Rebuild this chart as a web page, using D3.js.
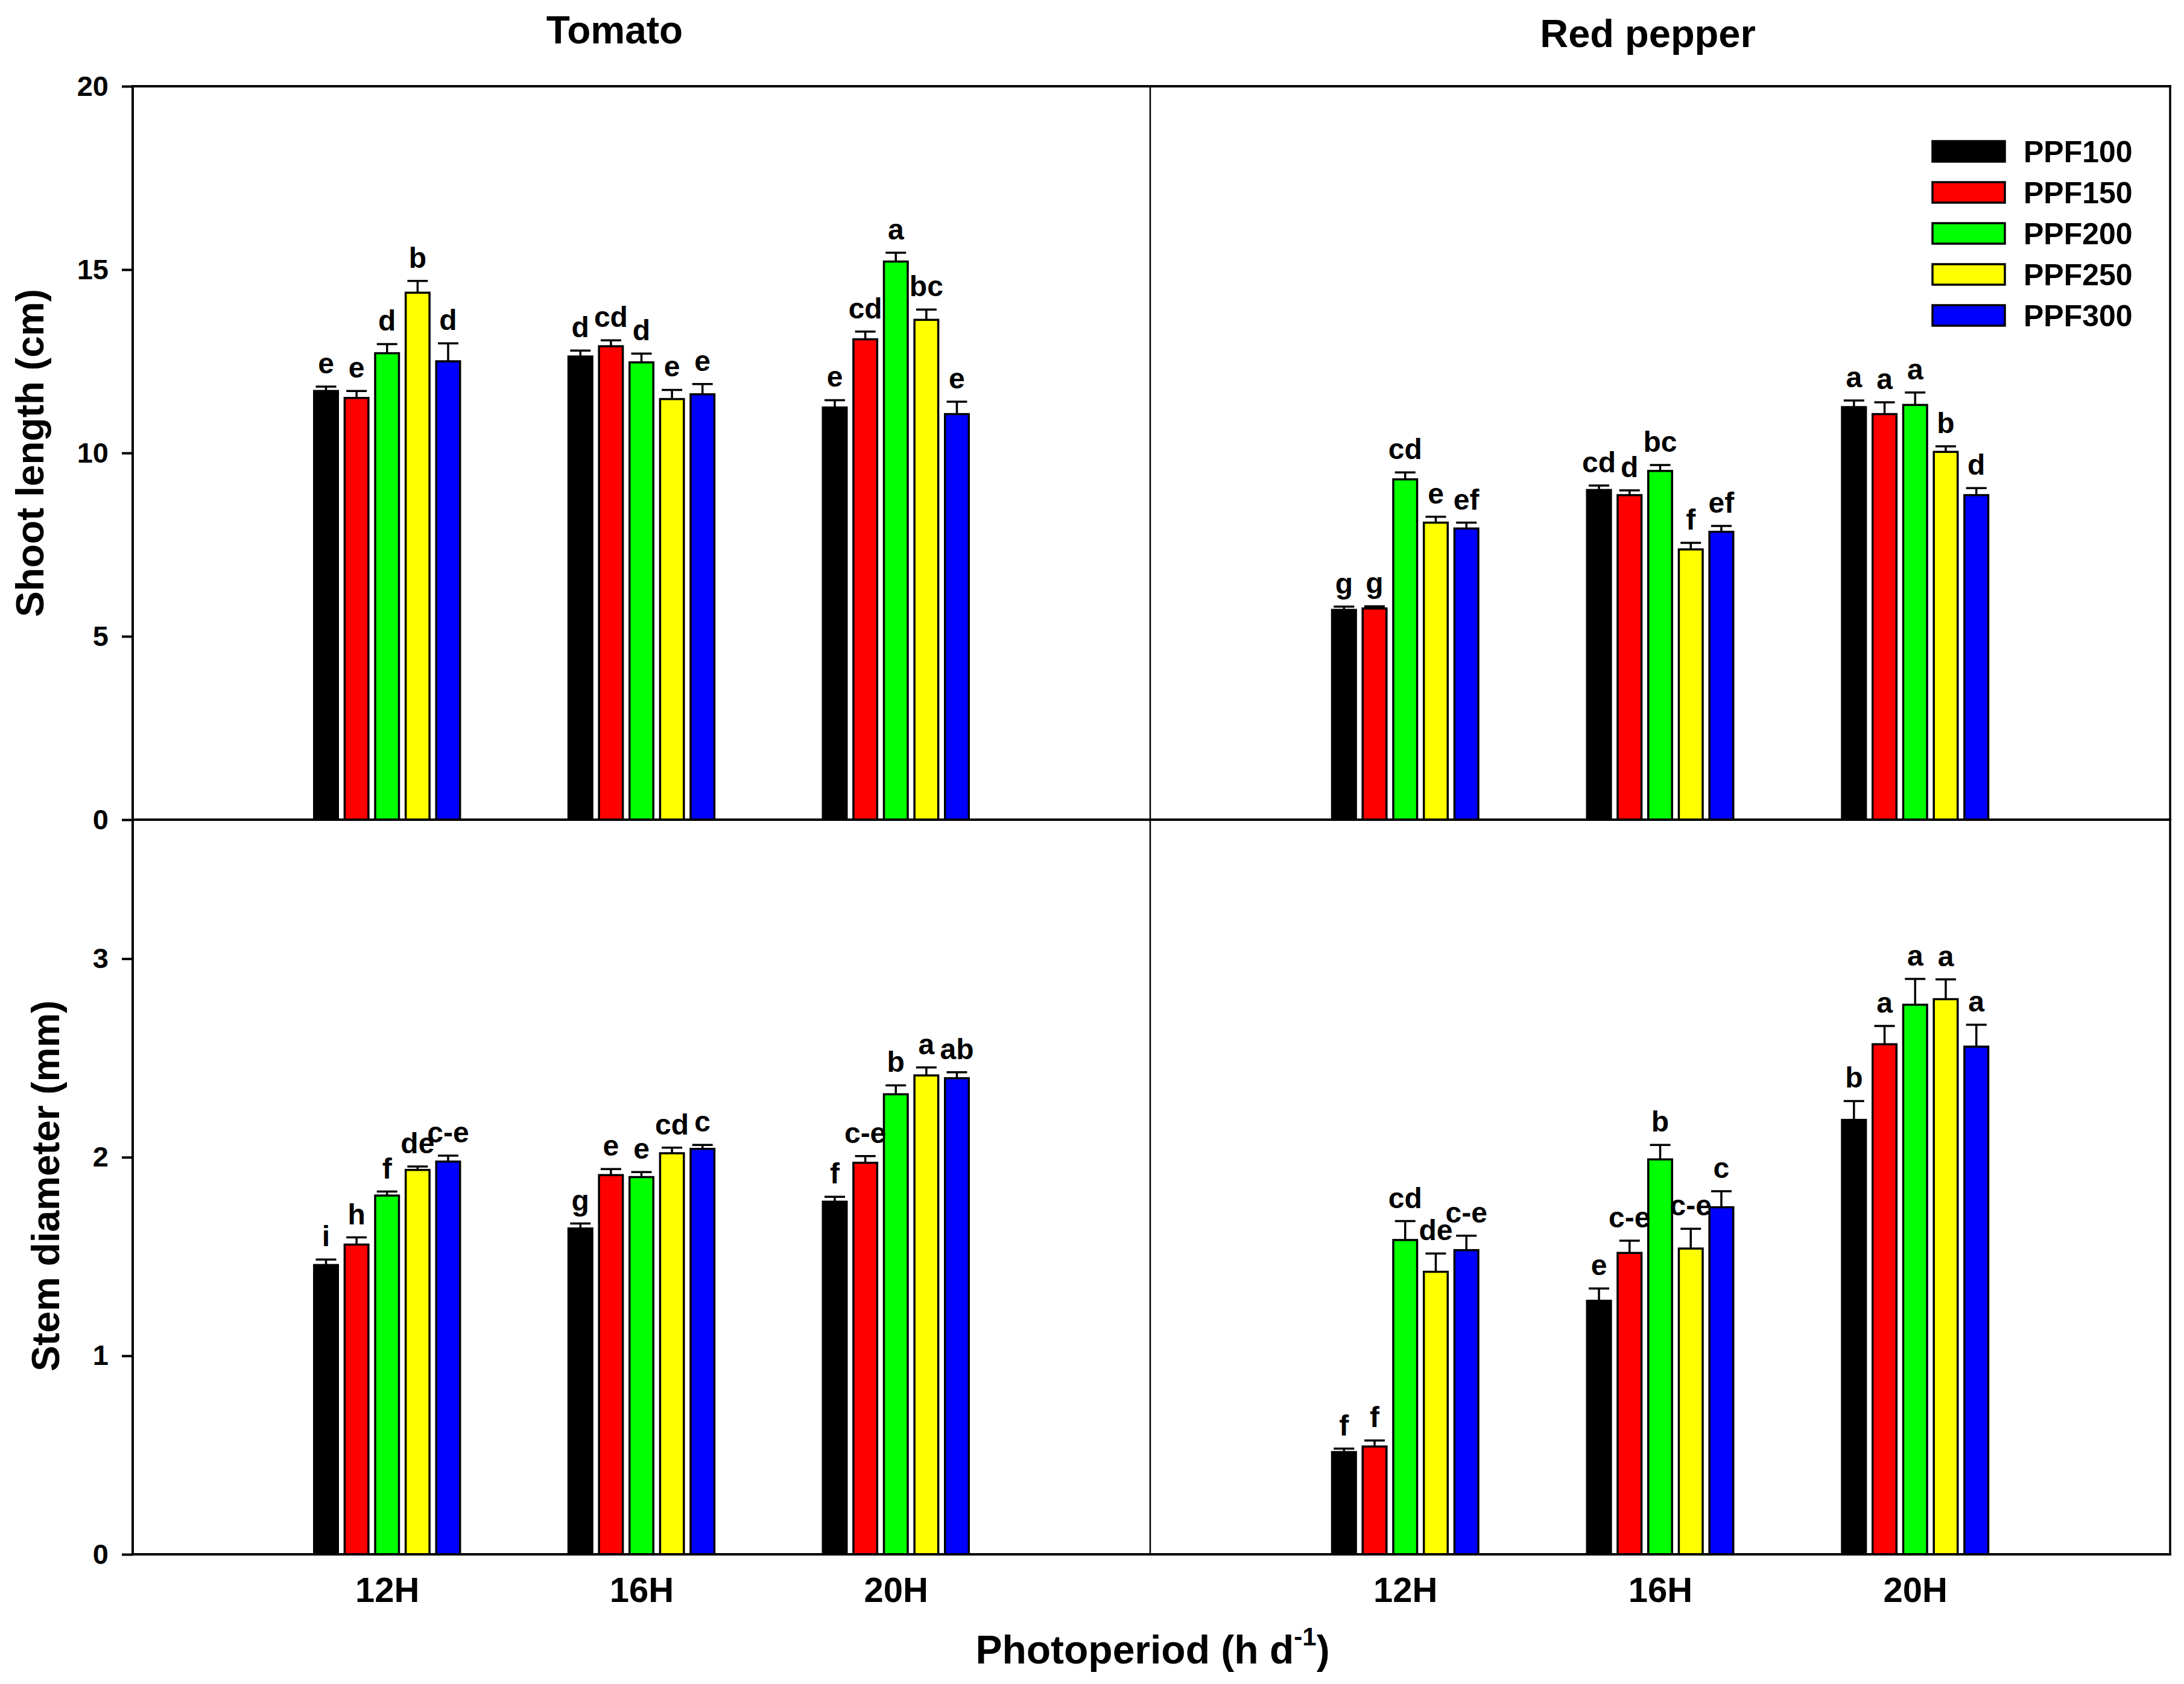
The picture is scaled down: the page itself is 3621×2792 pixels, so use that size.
<!DOCTYPE html>
<html>
<head>
<meta charset="utf-8">
<script src="https://cdn.jsdelivr.net/npm/d3@7"></script>
<style>
  body { margin: 0; background: #fff; }
  text { font-family: "Liberation Sans", Arial, sans-serif; font-weight: bold; fill: #000; }
</style>
</head>
<body>
<div id="chart"></div>
<script>
// categories and series
var photoperiods = ["12H", "16H", "20H"];
var series = ["PPF100", "PPF150", "PPF200", "PPF250", "PPF300"];
var seriesColors = ["#000000", "#ff0000", "#00ff00", "#ffff00", "#0000ff"];

// shoot length (cm), rows = photoperiod, cols = PPF
var tomatoShoot = [[11.69, 11.50, 12.72, 14.37, 12.50], [12.63, 12.91, 12.47, 11.47, 11.60], [11.24, 13.10, 15.22, 13.63, 11.06]];
var tomatoShootErr = [[0.12, 0.19, 0.25, 0.32, 0.49], [0.16, 0.16, 0.24, 0.25, 0.28], [0.20, 0.21, 0.24, 0.28, 0.34]];
var tomatoShootLetters = [["e", "e", "d", "b", "d"], ["d", "cd", "d", "e", "e"], ["e", "cd", "a", "bc", "e"]];

var pepperShoot = [[5.72, 5.76, 9.28, 8.10, 7.94], [8.99, 8.85, 9.51, 7.37, 7.85], [11.25, 11.06, 11.31, 10.03, 8.85]];
var pepperShootErr = [[0.09, 0.06, 0.19, 0.16, 0.16], [0.12, 0.13, 0.16, 0.18, 0.16], [0.18, 0.32, 0.34, 0.15, 0.19]];
var pepperShootLetters = [["g", "g", "cd", "e", "ef"], ["cd", "d", "bc", "f", "ef"], ["a", "a", "a", "b", "d"]];

// stem diameter (mm)
var tomatoStem = [[1.457, 1.56, 1.807, 1.936, 1.978], [1.641, 1.91, 1.90, 2.02, 2.042], [1.776, 1.972, 2.317, 2.412, 2.398]];
var tomatoStemErr = [[0.028, 0.036, 0.02, 0.017, 0.03], [0.025, 0.03, 0.025, 0.028, 0.02], [0.025, 0.034, 0.045, 0.04, 0.03]];
var tomatoStemLetters = [["i", "h", "f", "de", "c-e"], ["g", "e", "e", "cd", "c"], ["f", "c-e", "b", "a", "ab"]];

var pepperStem = [[0.515, 0.543, 1.583, 1.423, 1.532], [1.277, 1.518, 1.989, 1.54, 1.748], [2.188, 2.569, 2.768, 2.796, 2.557]];
var pepperStemErr = [[0.017, 0.03, 0.095, 0.092, 0.073], [0.062, 0.062, 0.073, 0.1, 0.081], [0.095, 0.092, 0.13, 0.1, 0.11]];
var pepperStemLetters = [["f", "f", "cd", "de", "c-e"], ["e", "c-e", "b", "c-e", "c"], ["b", "a", "a", "a", "a"]];

var shootTicks = [0, 5, 10, 15, 20];
var stemTicks = [0, 1, 2, 3];

var W = 3621, H = 2792;
var svg = d3.select("#chart").append("svg").attr("width", W).attr("height", H);

var colX = [[220, 1907], [1907, 3598]];
var rowY = [[143, 1359], [1359, 2577]];

var panels = [
    {col: 0, row: 0, vals: tomatoShoot, errs: tomatoShootErr, letters: tomatoShootLetters, domain: [0, 20], ticks: shootTicks},
    {col: 1, row: 0, vals: pepperShoot, errs: pepperShootErr, letters: pepperShootLetters, domain: [0, 20], ticks: null},
    {col: 0, row: 1, vals: tomatoStem, errs: tomatoStemErr, letters: tomatoStemLetters, domain: [0, 3.7], ticks: stemTicks},
    {col: 1, row: 1, vals: pepperStem, errs: pepperStemErr, letters: pepperStemLetters, domain: [0, 3.7], ticks: null}
];

panels.forEach(function(p){
    var x = d3.scaleLinear().domain([0, 4]).range(colX[p.col]);
    var y = d3.scaleLinear().domain(p.domain).range([rowY[p.row][1], rowY[p.row][0]]);
    var groupW = 0.6 * (x(1) - x(0));
    var inner = d3.scaleBand().domain(series).range([-groupW / 2, groupW / 2]).paddingInner(0.22).paddingOuter(0.11);
    var bw = inner.bandwidth();
    var g = svg.append("g");

    // flatten into bar records
    var recs = [];
    p.vals.forEach(function(row, gi){
        row.forEach(function(v, si){
            recs.push({gi: gi, si: si, v: v, e: p.errs[gi][si], lab: p.letters[gi][si]});
        });
    });
    var cx = function(d){ return x(d.gi + 1) + inner(series[d.si]) + bw / 2; };

    // error bars (up only)
    g.selectAll(".err").data(recs).enter().append("line")
        .attr("x1", cx).attr("x2", cx)
        .attr("y1", function(d){ return y(d.v); })
        .attr("y2", function(d){ return y(d.v + d.e); })
        .attr("stroke", "#000").attr("stroke-width", 3.5);
    g.selectAll(".cap").data(recs).enter().append("line")
        .attr("x1", function(d){ return cx(d) - bw * 0.43; })
        .attr("x2", function(d){ return cx(d) + bw * 0.43; })
        .attr("y1", function(d){ return y(d.v + d.e); })
        .attr("y2", function(d){ return y(d.v + d.e); })
        .attr("stroke", "#000").attr("stroke-width", 3.5);

    g.selectAll(".bar").data(recs).enter().append("rect")
        .attr("x", function(d){ return cx(d) - bw / 2; })
        .attr("y", function(d){ return y(d.v); })
        .attr("width", bw)
        .attr("height", function(d){ return y(0) - y(d.v); })
        .attr("fill", function(d){ return seriesColors[d.si]; })
        .attr("stroke", "#000").attr("stroke-width", 3.5);

    g.selectAll(".lab").data(recs).enter().append("text")
        .attr("x", cx)
        .attr("y", function(d){ return y(d.v + d.e) - 22; })
        .attr("text-anchor", "middle")
        .style("font-size", "48px")
        .text(function(d){ return d.lab; });

    if (p.ticks) {
        var ya = svg.append("g").attr("transform", "translate(" + colX[p.col][0] + ",0)")
            .call(d3.axisLeft(y).tickValues(p.ticks).tickFormat(d3.format("d"))
                .tickSize(18).tickPadding(22).tickSizeOuter(0));
        ya.select(".domain").remove();
        ya.selectAll(".tick line").attr("stroke-width", 4);
        ya.selectAll(".tick text").style("font-size", "47px").style("font-family", "'Liberation Sans', Arial, sans-serif");
    }
    if (p.row === 1) {
        var xa = svg.append("g").attr("transform", "translate(0," + rowY[1][1] + ")")
            .call(d3.axisBottom(x).tickValues([1, 2, 3]).tickFormat(function(d){ return photoperiods[d - 1]; })
                .tickSize(0).tickPadding(38));
        xa.select(".domain").remove();
        xa.selectAll(".tick text").style("font-size", "58px").style("font-family", "'Liberation Sans', Arial, sans-serif");
    }
});

// frame
var frame = svg.append("g").attr("fill", "none").attr("stroke", "#000");
frame.append("line").attr("x1", 220).attr("x2", 220).attr("y1", 143).attr("y2", 2577).attr("stroke-width", 4);
frame.append("line").attr("x1", 218).attr("x2", 3600).attr("y1", 143).attr("y2", 143).attr("stroke-width", 4);
frame.append("line").attr("x1", 218).attr("x2", 3600).attr("y1", 1359).attr("y2", 1359).attr("stroke-width", 4);
frame.append("line").attr("x1", 218).attr("x2", 3600).attr("y1", 2577).attr("y2", 2577).attr("stroke-width", 4);
frame.append("line").attr("x1", 1907).attr("x2", 1907).attr("y1", 143).attr("y2", 2577).attr("stroke-width", 2.5);
frame.append("line").attr("x1", 3598).attr("x2", 3598).attr("y1", 143).attr("y2", 2577).attr("stroke-width", 3.5);

// panel titles
svg.append("text").attr("x", 1019).attr("y", 72).attr("text-anchor", "middle").style("font-size", "64px").text("Tomato");
svg.append("text").attr("x", 2732).attr("y", 78).attr("text-anchor", "middle").style("font-size", "65px").text("Red pepper");

// axis titles
svg.append("text").attr("transform", "translate(72,751) rotate(-90)").attr("text-anchor", "middle")
    .style("font-size", "64px").text("Shoot length (cm)");
svg.append("text").attr("transform", "translate(98,1966) rotate(-90)").attr("text-anchor", "middle")
    .style("font-size", "64px").text("Stem diameter (mm)");
var xt = svg.append("text").attr("x", 1911).attr("y", 2758).attr("text-anchor", "middle").style("font-size", "66px");
xt.append("tspan").text("Photoperiod (h d");
xt.append("tspan").attr("dy", -30).style("font-size", "42px").text("-1");
xt.append("tspan").attr("dy", 30).text(")");

// legend
var leg = svg.append("g").attr("transform", "translate(3204,251)");
var li = leg.selectAll("g").data(series).enter().append("g")
    .attr("transform", function(d, i){ return "translate(0," + (i * 68) + ")"; });
li.append("rect").attr("x", 0).attr("y", -17).attr("width", 120).attr("height", 34)
    .attr("fill", function(d, i){ return seriesColors[i]; }).attr("stroke", "#000").attr("stroke-width", 3.5);
li.append("text").attr("x", 151).attr("dy", "0.36em").style("font-size", "50px").text(function(d){ return d; });
</script>
</body>
</html>
